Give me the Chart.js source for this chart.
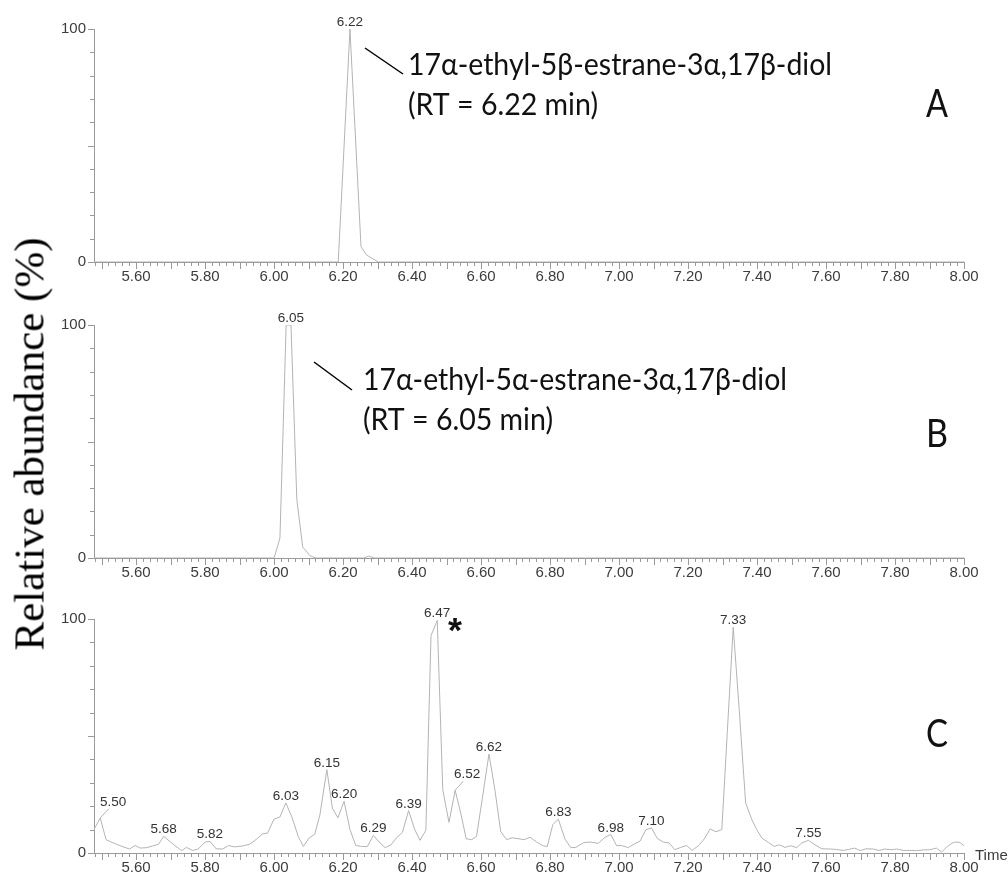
<!DOCTYPE html>
<html>
<head>
<meta charset="utf-8">
<script src="https://cdn.jsdelivr.net/npm/chart.js@4.4.1/dist/chart.umd.min.js"></script>
<style>
  html, body { margin: 0; padding: 0; background: #fff; overflow: hidden; }
  #page { position: relative; width: 1008px; height: 880px; }
  .panel { position: absolute; left: 0; width: 1008px; height: 289px; }
  #ytitle {
    position: absolute; left: 28.5px; top: 444px;
    transform: translate(-50%, -50%) rotate(-90deg);
    font-family: "Liberation Serif", "Times New Roman", serif;
    font-size: 43px; line-height: 1; white-space: nowrap; color: #000;
  }
</style>
</head>
<body>
<div id="page">
  <div class="panel" style="top:0px"><canvas id="chartA" width="1008" height="289"></canvas></div>
  <div class="panel" style="top:296px"><canvas id="chartB" width="1008" height="289"></canvas></div>
  <div class="panel" style="top:591px"><canvas id="chartC" width="1008" height="289"></canvas></div>
  <div id="ytitle">Relative abundance (%)</div>
</div>
<script>
// ---- data (retention time in min, relative abundance in %) ----
const timesA = [5.478, 6.186, 6.22, 6.252, 6.268, 6.302, 8.00];
const abundA = [0, 0, 100, 6.6, 3.0, 0, 0];

const timesB = [5.478, 6.000, 6.017, 6.035, 6.049, 6.066, 6.083, 6.104, 6.12, 6.26, 6.275, 6.29, 8.00];
const abundB = [0, 0, 8.5, 100, 100, 25, 4.7, 1.0, 0, 0, 0.8, 0, 0];

const timesC = [
  5.478, 5.496, 5.513, 5.534, 5.559, 5.581, 5.597, 5.612, 5.631, 5.650,
  5.665, 5.680, 5.703, 5.732, 5.746, 5.764, 5.780, 5.800, 5.814, 5.832,
  5.851, 5.868, 5.884, 5.909, 5.930, 5.950, 5.967, 5.981, 6.000, 6.017,
  6.034, 6.051, 6.070, 6.085, 6.102, 6.118, 6.133, 6.153, 6.169, 6.185,
  6.203, 6.220, 6.237, 6.254, 6.270, 6.288, 6.304, 6.322, 6.339, 6.356,
  6.372, 6.390, 6.407, 6.423, 6.440, 6.455, 6.473, 6.489, 6.507, 6.525,
  6.541, 6.557, 6.573, 6.587, 6.606, 6.623, 6.640, 6.657, 6.674, 6.690,
  6.713, 6.725, 6.742, 6.761, 6.779, 6.792, 6.808, 6.824, 6.843, 6.860,
  6.875, 6.897, 6.916, 6.940, 6.959, 6.976, 6.993, 7.007, 7.027, 7.046,
  7.061, 7.078, 7.094, 7.111, 7.128, 7.145, 7.162, 7.179, 7.196, 7.212,
  7.230, 7.247, 7.264, 7.281, 7.298, 7.314, 7.331, 7.348, 7.367, 7.385,
  7.399, 7.414, 7.433, 7.450, 7.465, 7.481, 7.497, 7.515, 7.530, 7.549,
  7.568, 7.588, 7.612, 7.631, 7.650, 7.665, 7.683, 7.699, 7.716, 7.737,
  7.754, 7.771, 7.788, 7.805, 7.824, 7.843, 7.862, 7.882, 7.901, 7.920,
  7.935, 7.954, 7.972, 7.988, 8.000
];
const abundC = [
  10, 15, 5.7, 4.3, 2.8, 1.7, 3.2, 2.1, 2.3, 3.1,
  3.7, 7.1, 4.3, 1.0, 2.4, 1.1, 1.7, 4.7, 5.0, 1.8,
  1.7, 3.2, 2.6, 3.0, 3.8, 6.0, 8.2, 8.5, 14.5, 15.4,
  21.4, 15.6, 7.1, 2.8, 6.5, 8.0, 16.4, 35.6, 19.2, 15.0,
  22.1, 10.0, 3.2, 2.8, 2.7, 7.5, 4.8, 2.3, 3.5, 6.7,
  8.8, 18.1, 10.3, 5.4, 9.7, 92.9, 99.4, 27.1, 13.1, 26.8,
  17.1, 6.1, 5.7, 7.1, 25.6, 42.3, 27.1, 9.2, 5.7, 6.5,
  6.0, 5.7, 6.7, 4.7, 3.1, 2.8, 12.1, 14.5, 6.0, 2.3,
  2.4, 4.4, 4.7, 4.1, 6.7, 7.9, 3.1, 3.2, 2.3, 4.0,
  5.1, 10.0, 10.7, 6.2, 4.7, 4.3, 1.4, 2.4, 3.2, 1.1,
  3.1, 6.0, 10.3, 9.1, 10.0, 52, 96.5, 62, 21.4, 14.2,
  10, 6.4, 4.5, 2.8, 3.5, 2.4, 3.1, 2.3, 4.3, 5.4,
  3.5, 1.8, 1.7, 1.5, 1.1, 1.5, 2.1, 1.0, 1.8, 1.7,
  1.1, 1.7, 1.4, 1.7, 1.1, 1.1, 1.0, 1.3, 1.4, 2.1,
  0.4, 3.1, 4.7, 4.5, 3.1
];

// peak apex labels
const peakTextA = ['6.22'];
const peakTimeA = [6.22];
const peakTextB = ['6.05'];
const peakTimeB = [6.049];
const peakTextC = ['5.50', '5.68', '5.82', '6.03', '6.15', '6.20', '6.29', '6.39',
                   '6.47', '6.52', '6.62', '6.83', '6.98', '7.10', '7.33', '7.55'];
const peakTimeC = [5.496, 5.680, 5.814, 6.034, 6.153, 6.203, 6.288, 6.390,
                   6.473, 6.525, 6.623, 6.824, 6.976, 7.094, 7.331, 7.549];

// axis tick labels
const xTickValues = [5.60, 5.80, 6.00, 6.20, 6.40, 6.60, 6.80, 7.00, 7.20, 7.40, 7.60, 7.80, 8.00];
const yTickValues = [0, 100];

// ---- styling ----
const AXIS_COLOR = '#9a9a9a';
const LINE_COLOR = '#b4b4b4';
const LABEL_COLOR = '#3c3c3c';
const SANS = '"Liberation Sans", Arial, sans-serif';
const CALIBRI_LIKE = 'Lato, "Open Sans", sans-serif';

// labels that sit off the apex with a small leader line
const LEADERS = {
  '5.50': { lx: 8.7, ly: -9.2, dx: 13, dy: -11.5 },
  '6.52': { lx: 8, ly: -9, dx: 12, dy: -12.3 }
};

Chart.defaults.font.family = SANS;
Chart.defaults.color = LABEL_COLOR;

const notesPlugin = {
  id: 'notes',
  afterDatasetsDraw(chart, args, opts) {
    const ctx = chart.ctx;
    const xs = chart.scales.x, ys = chart.scales.y;
    const off = opts.top;
    ctx.save();

    // minor / major tick marks
    ctx.strokeStyle = AXIS_COLOR;
    ctx.lineWidth = 1;
    ctx.beginPath();
    for (let i = 274; i <= 400; i++) {
      const px = Math.round(xs.getPixelForValue(i / 50)) + 0.5;
      const len = i % 5 === 0 ? 7 : 4;
      ctx.moveTo(px, ys.bottom);
      ctx.lineTo(px, ys.bottom + len);
    }
    for (let v = 0; v <= 100; v += 10) {
      const py = Math.round(ys.getPixelForValue(v)) + 0.5;
      const len = v % 50 === 0 ? 6 : 4;
      ctx.moveTo(xs.left, py);
      ctx.lineTo(xs.left - len, py);
    }
    ctx.stroke();

    // apex labels
    const pts = chart.data.datasets[0].data;
    ctx.font = '13.5px ' + SANS;
    ctx.fillStyle = '#333';
    ctx.textAlign = 'center';
    ctx.textBaseline = 'alphabetic';
    opts.peakText.forEach((txt, k) => {
      let best = 0;
      pts.forEach((p, i) => {
        if (Math.abs(p.x - opts.peakTime[k]) < Math.abs(pts[best].x - opts.peakTime[k])) best = i;
      });
      const px = xs.getPixelForValue(pts[best].x);
      const py = ys.getPixelForValue(pts[best].y);
      const lead = LEADERS[txt];
      if (lead) {
        ctx.strokeStyle = LINE_COLOR;
        ctx.beginPath();
        ctx.moveTo(px, py);
        ctx.lineTo(px + lead.lx, py + lead.ly);
        ctx.stroke();
        ctx.fillText(txt, px + lead.dx, py + lead.dy);
      } else {
        ctx.fillText(txt, px, py - 3);
      }
    });

    // compound annotation
    if (opts.compound) {
      const c = opts.compound;
      ctx.strokeStyle = '#000';
      ctx.lineWidth = 1.5;
      ctx.beginPath();
      ctx.moveTo(c.lead[0], c.lead[1] - off);
      ctx.lineTo(c.lead[2], c.lead[3] - off);
      ctx.stroke();
      ctx.fillStyle = '#111';
      ctx.textAlign = 'left';
      ctx.font = '30px ' + CALIBRI_LIKE;
      ctx.fillText(c.name, c.x, c.y - off, 424);
      ctx.fillText(c.rt, c.x, c.y + 40 - off, 190);
    }

    // panel letter
    ctx.fillStyle = '#111';
    ctx.textAlign = 'left';
    ctx.font = '38px ' + CALIBRI_LIKE;
    ctx.fillText(opts.letter, 926, opts.letterY - off, 22);

    // asterisk on the target peak
    if (opts.star) {
      ctx.font = 'bold 100px ' + SANS;
      let m = ctx.measureText('*');
      const size = 100 * 14 / (m.actualBoundingBoxRight + m.actualBoundingBoxLeft);
      ctx.font = 'bold ' + size.toFixed(1) + 'px ' + SANS;
      m = ctx.measureText('*');
      const sx = opts.star[0] - (m.actualBoundingBoxRight - m.actualBoundingBoxLeft) / 2;
      const sy = opts.star[1] - off - (m.actualBoundingBoxDescent - m.actualBoundingBoxAscent) / 2;
      ctx.fillText('*', sx, sy);
    }

    // axis unit
    if (opts.timeLabel) {
      ctx.font = '15px ' + SANS;
      ctx.fillStyle = LABEL_COLOR;
      ctx.textBaseline = 'middle';
      ctx.fillText('Time', 975, 856 - off);
    }
    ctx.restore();
  }
};

function makeChart(id, times, abund, padTop, notes) {
  const ctx = document.getElementById(id).getContext('2d');
  return new Chart(ctx, {
    type: 'line',
    data: {
      datasets: [{
        data: times.map((t, i) => ({ x: t, y: abund[i] })),
        borderColor: LINE_COLOR,
        borderWidth: 1,
        pointRadius: 0,
        tension: 0,
        fill: false
      }]
    },
    options: {
      responsive: false,
      animation: false,
      layout: { padding: { top: padTop, left: 0, right: 44, bottom: 0 } },
      plugins: {
        legend: { display: false },
        tooltip: { enabled: false },
        notes: notes
      },
      scales: {
        x: {
          type: 'linear',
          min: 5.478,
          max: 8.0,
          afterBuildTicks: ax => { ax.ticks = xTickValues.map(v => ({ value: v })); },
          afterFit: ax => { ax.height = 27; },
          grid: { display: false, drawTicks: false },
          border: { color: AXIS_COLOR, width: 1 },
          ticks: {
            autoSkip: false, maxRotation: 0, padding: 6,
            color: LABEL_COLOR, font: { size: 15 },
            callback: v => Number(v).toFixed(2)
          }
        },
        y: {
          min: 0,
          max: 100,
          afterBuildTicks: ax => { ax.ticks = yTickValues.map(v => ({ value: v })); },
          afterFit: ax => { ax.width = 94; },
          grid: { display: false, drawTicks: false },
          border: { color: AXIS_COLOR, width: 1 },
          ticks: { padding: 8, color: LABEL_COLOR, font: { size: 15 } }
        }
      }
    },
    plugins: [notesPlugin]
  });
}

makeChart('chartA', timesA, abundA, 29, {
  top: 0, peakText: peakTextA, peakTime: peakTimeA,
  compound: { name: '17α-ethyl-5β-estrane-3α,17β-diol', rt: '(RT = 6.22 min)', x: 408, y: 75, lead: [365, 48, 403, 74] },
  letter: 'A', letterY: 117
});
makeChart('chartB', timesB, abundB, 29, {
  top: 296, peakText: peakTextB, peakTime: peakTimeB,
  compound: { name: '17α-ethyl-5α-estrane-3α,17β-diol', rt: '(RT = 6.05 min)', x: 363, y: 390, lead: [314, 362, 352, 390] },
  letter: 'B', letterY: 447
});
makeChart('chartC', timesC, abundC, 28, {
  top: 591, peakText: peakTextC, peakTime: peakTimeC,
  letter: 'C', letterY: 747, star: [455, 625], timeLabel: true
});
</script>
</body>
</html>
